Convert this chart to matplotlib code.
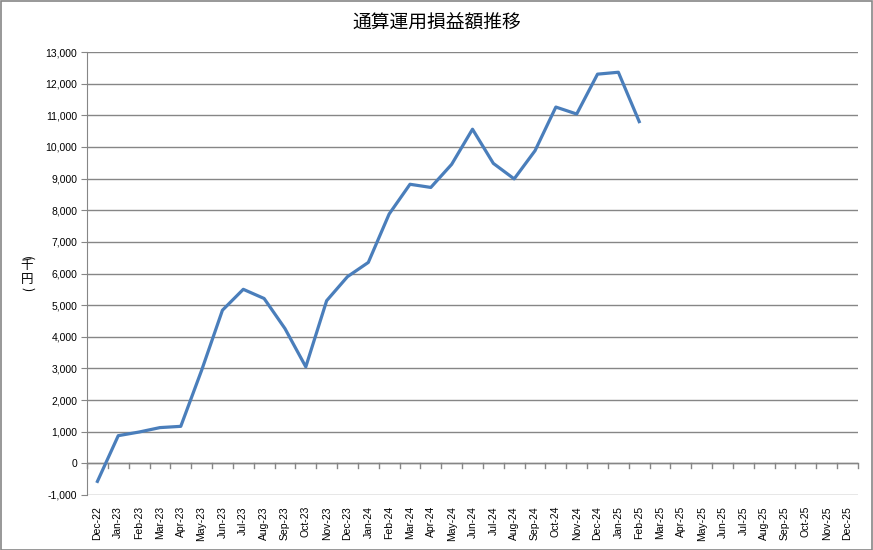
import matplotlib
matplotlib.use("Agg")
import matplotlib.pyplot as plt
from matplotlib.patches import Rectangle
import numpy as np

plt.rcParams['font.family'] = ['Liberation Sans', 'Noto Sans CJK JP', 'DejaVu Sans']

months = ["Dec-22", "Jan-23", "Feb-23", "Mar-23", "Apr-23", "May-23", "Jun-23", "Jul-23",
          "Aug-23", "Sep-23", "Oct-23", "Nov-23", "Dec-23", "Jan-24", "Feb-24", "Mar-24",
          "Apr-24", "May-24", "Jun-24", "Jul-24", "Aug-24", "Sep-24", "Oct-24", "Nov-24",
          "Dec-24", "Jan-25", "Feb-25", "Mar-25", "Apr-25", "May-25", "Jun-25", "Jul-25",
          "Aug-25", "Sep-25", "Oct-25", "Nov-25", "Dec-25"]
values = [-570, 875, 990, 1130, 1170, 2940, 4840, 5500, 5210, 4260, 3050, 5140, 5900,
          6350, 7880, 8820, 8720, 9450, 10560, 9480, 8990, 9880, 11260, 11040, 12300,
          12360, 10800]
title = "通算運用損益額推移"
ylabel = "(千円)"
yticks = list(range(-1000, 13001, 1000))

W, H = 873, 550
fig = plt.figure(figsize=(W / 100, H / 100), dpi=100)
ax = fig.add_axes([87 / W, 1 - 495 / H, (858 - 87) / W, (495 - 52) / H])

x = np.arange(len(values))
ax.plot(x, values, color="#4A7EBB", lw=2.3, solid_joinstyle="round", zorder=3)

n = len(months)
ax.set_xlim(-0.5, n - 0.5)
ax.set_ylim(-1000, 13000)
ax.set_yticks(yticks)
ax.set_yticklabels([f"{v:,}" for v in yticks], fontsize=7.5)
for v in yticks:
    ax.axhline(v, color="#868686", lw=1.0, zorder=1)

# category axis at 0 with boundary tick marks
ax.axhline(0, color="#868686", lw=1.0, zorder=2)
ax.set_xticks(np.arange(n))
ax.set_xticklabels(months, rotation=90, fontsize=7.5)
ax.tick_params(axis="x", length=0, pad=8)
for b in np.arange(n + 1) - 0.5:
    ax.plot([b, b], [0, -160], color="#868686", lw=1.0, zorder=2, clip_on=False)

ax.tick_params(axis="y", length=4, color="#868686", pad=3)
for s in ["top", "right", "bottom"]:
    ax.spines[s].set_visible(False)
ax.spines["left"].set_color("#868686")

fig.text(437 / W, 1 - 23 / H, title, ha="center", va="center", fontsize=13.5,
         family=["Noto Sans CJK JP"])

# vertical (stacked) axis label
chars = list(ylabel)
ys = [258, 266, 279, 289]
for ch, yy in zip(chars, ys):
    rot = -90 if ch in "()" else 0
    fig.text(27 / W, 1 - yy / H, ch, ha="center", va="center", fontsize=9,
             family=["Noto Sans CJK JP"], rotation=rot)

fig.patches.append(Rectangle((0.5 / W, 0.5 / H), 1 - 1.5 / W, 1 - 1.5 / H,
                             transform=fig.transFigure, fill=False,
                             edgecolor="#868686", lw=1.2))

fig.savefig("out.png", dpi=100)
